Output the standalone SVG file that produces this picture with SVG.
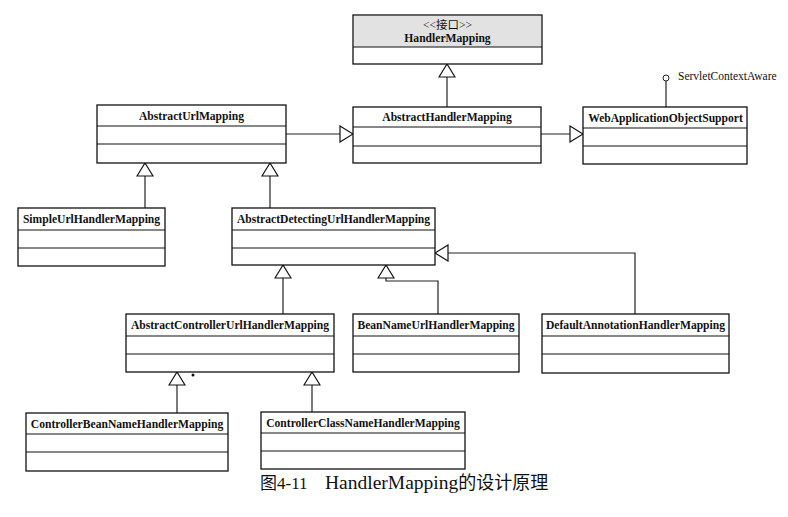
<svg xmlns="http://www.w3.org/2000/svg" width="788" height="517" viewBox="0 0 788 517">
<style>
.box{fill:#fff;stroke:#111;stroke-width:1.3}
.div{stroke:#111;stroke-width:1.2}
.lbl{font-family:"Liberation Serif","Noto Sans CJK SC",serif;font-weight:bold;font-size:11.6px;fill:#111;text-anchor:middle}
.reg{font-family:"Liberation Serif","Noto Sans CJK SC",serif;font-size:11.5px;fill:#111}
.con{fill:none;stroke:#222;stroke-width:1.2}
.gen{marker-end:url(#tri)}
.cap{font-family:"Liberation Serif","Noto Sans CJK SC",serif;fill:#111}
</style>
<defs>
<marker id="tri" viewBox="-1 -1 15 18" refX="13" refY="8" markerWidth="15" markerHeight="18" markerUnits="userSpaceOnUse" orient="auto">
<path d="M0,0 L13,8 L0,16 Z" fill="#fff" stroke="#111" stroke-width="1.2"/>
</marker>
</defs>
<rect width="788" height="517" fill="#fff"/>

<g id="connectors">
<path class="con gen" d="M447,107 V64"/>
<path class="con gen" d="M286,134 H353"/>
<path class="con gen" d="M541,134 H583"/>
<path class="con gen" d="M145,208 V163"/>
<path class="con gen" d="M270,208 V163"/>
<path class="con gen" d="M283,314 V265"/>
<path class="con gen" d="M438,314 V281 H386 V265"/>
<path class="con gen" d="M635,314 V253 H435"/>
<path class="con gen" d="M177,413 V372"/>
<path class="con gen" d="M312,412 V372"/>
<path class="con" d="M666,107 V81"/>
<circle cx="666" cy="78" r="3" fill="#fff" stroke="#222" stroke-width="1"/>
<circle cx="193" cy="375" r="1.5" fill="#111"/>
</g>

<g id="HandlerMapping">
<rect class="box" x="353" y="15" width="189" height="49"/>
<rect x="354" y="16" width="187" height="31" fill="#e2e2e2"/>
<line class="div" x1="353" y1="47" x2="542" y2="47"/>
<text class="reg" x="447.5" y="29" text-anchor="middle" font-size="11">&lt;&lt;接口&gt;&gt;</text>
<text class="lbl" x="447.5" y="42">HandlerMapping</text>
</g>

<g id="ServletContextAware">
<text class="reg" x="678" y="80">ServletContextAware</text>
</g>

<g id="AbstractUrlMapping">
<rect class="box" x="97" y="105" width="189" height="58"/>
<line class="div" x1="97" y1="126" x2="286" y2="126"/>
<line class="div" x1="97" y1="144" x2="286" y2="144"/>
<text class="lbl" x="191.5" y="120">AbstractUrlMapping</text>
</g>

<g id="AbstractHandlerMapping">
<rect class="box" x="353" y="107" width="188" height="56"/>
<line class="div" x1="353" y1="127" x2="541" y2="127"/>
<line class="div" x1="353" y1="146" x2="541" y2="146"/>
<text class="lbl" x="447" y="121">AbstractHandlerMapping</text>
</g>

<g id="WebApplicationObjectSupport">
<rect class="box" x="583" y="107" width="164" height="57"/>
<line class="div" x1="583" y1="128" x2="747" y2="128"/>
<line class="div" x1="583" y1="146" x2="747" y2="146"/>
<text class="lbl" x="665.5" y="122">WebApplicationObjectSupport</text>
</g>

<g id="SimpleUrlHandlerMapping">
<rect class="box" x="18" y="208" width="147" height="58"/>
<line class="div" x1="18" y1="230" x2="165" y2="230"/>
<line class="div" x1="18" y1="248" x2="165" y2="248"/>
<text class="lbl" x="91.5" y="223">SimpleUrlHandlerMapping</text>
</g>

<g id="AbstractDetectingUrlHandlerMapping">
<rect class="box" x="232" y="208" width="203" height="57"/>
<line class="div" x1="232" y1="230" x2="435" y2="230"/>
<line class="div" x1="232" y1="248" x2="435" y2="248"/>
<text class="lbl" x="333.5" y="223">AbstractDetectingUrlHandlerMapping</text>
</g>

<g id="AbstractControllerUrlHandlerMapping">
<rect class="box" x="126" y="314" width="208" height="58"/>
<line class="div" x1="126" y1="336" x2="334" y2="336"/>
<line class="div" x1="126" y1="354" x2="334" y2="354"/>
<text class="lbl" x="230" y="329">AbstractControllerUrlHandlerMapping</text>
</g>

<g id="BeanNameUrlHandlerMapping">
<rect class="box" x="353" y="314" width="166" height="58"/>
<line class="div" x1="353" y1="336" x2="519" y2="336"/>
<line class="div" x1="353" y1="354" x2="519" y2="354"/>
<text class="lbl" x="436" y="329">BeanNameUrlHandlerMapping</text>
</g>

<g id="DefaultAnnotationHandlerMapping">
<rect class="box" x="542" y="314" width="187" height="59"/>
<line class="div" x1="542" y1="336" x2="729" y2="336"/>
<line class="div" x1="542" y1="354" x2="729" y2="354"/>
<text class="lbl" x="635.5" y="329">DefaultAnnotationHandlerMapping</text>
</g>

<g id="ControllerBeanNameHandlerMapping">
<rect class="box" x="26" y="413" width="202" height="58"/>
<line class="div" x1="26" y1="434" x2="228" y2="434"/>
<line class="div" x1="26" y1="452" x2="228" y2="452"/>
<text class="lbl" x="127" y="428">ControllerBeanNameHandlerMapping</text>
</g>

<g id="ControllerClassNameHandlerMapping">
<rect class="box" x="261" y="412" width="204" height="57"/>
<line class="div" x1="261" y1="433" x2="465" y2="433"/>
<line class="div" x1="261" y1="451" x2="465" y2="451"/>
<text class="lbl" x="363" y="427">ControllerClassNameHandlerMapping</text>
</g>

<g id="caption">
<text class="cap" x="260" y="489" font-size="17">图4-11</text>
<text class="cap" x="325" y="489" font-size="19.5">HandlerMapping<tspan font-size="18">的设计原理</tspan></text>
</g>
</svg>
